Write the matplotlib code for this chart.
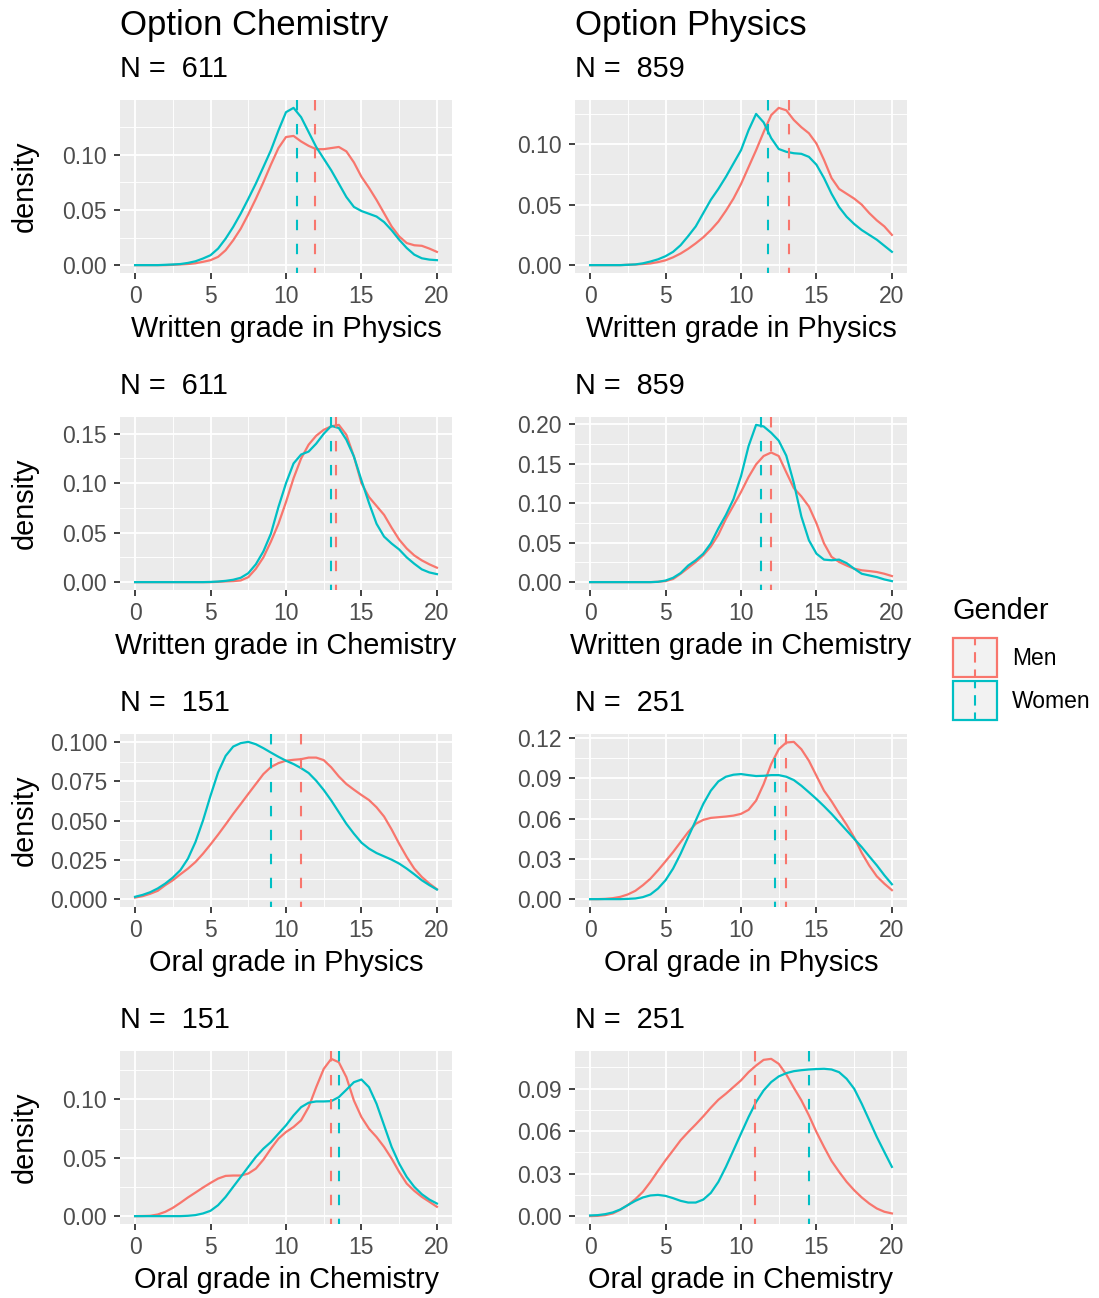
import numpy as np
import matplotlib.pyplot as plt
from matplotlib.patches import Rectangle
from matplotlib.lines import Line2D
from matplotlib.ticker import FixedLocator, MultipleLocator

plt.rcParams['font.family'] = ['Liberation Sans', 'DejaVu Sans']

MEN = '#F8766D'
WOMEN = '#00BFC4'

# grades at which the kernel densities are evaluated
grade = np.arange(0, 20.5, 0.5)

# --- Option Chemistry ---------------------------------------------------
n_chem_written = 611
n_chem_oral = 151

chem_wphys_men = [0, 0, 0, 0, 0, 0.0003, 0.0006, 0.001, 0.0017, 0.003,
                  0.0045, 0.0075, 0.0135, 0.0225, 0.033, 0.046, 0.060, 0.075, 0.091, 0.106,
                  0.116, 0.117, 0.112, 0.108, 0.105, 0.105, 0.106, 0.107, 0.103, 0.093,
                  0.080, 0.070, 0.059, 0.047, 0.035, 0.026, 0.020, 0.018, 0.0175, 0.015, 0.012]
chem_wphys_women = [0, 0, 0, 0, 0.0003, 0.0006, 0.001, 0.002, 0.0035, 0.006,
                    0.009, 0.015, 0.024, 0.0346, 0.0467, 0.060, 0.0738, 0.0888, 0.104, 0.122,
                    0.1385, 0.1424, 0.134, 0.1205, 0.107, 0.0964, 0.0858, 0.0738, 0.0617, 0.0527,
                    0.049, 0.0465, 0.044, 0.039, 0.0316, 0.023, 0.0155, 0.0095, 0.0062, 0.005, 0.0045]

chem_wchem_men = [0, 0, 0, 0, 0, 0, 0, 0, 0, 0,
                  0, 0.0003, 0.0007, 0.001, 0.0017, 0.005, 0.0135, 0.025, 0.041, 0.059,
                  0.081, 0.105, 0.125, 0.139, 0.148, 0.154, 0.1575, 0.159, 0.149, 0.127,
                  0.100, 0.086, 0.077, 0.068, 0.055, 0.043, 0.034, 0.027, 0.022, 0.018, 0.0146]
chem_wchem_women = [0, 0, 0, 0, 0, 0, 0, 0, 0, 0,
                    0.0002, 0.0006, 0.0013, 0.0024, 0.0044, 0.009, 0.018, 0.031, 0.049, 0.076,
                    0.100, 0.120, 0.129, 0.132, 0.140, 0.150, 0.158, 0.1558, 0.144, 0.127,
                    0.103, 0.080, 0.059, 0.046, 0.039, 0.033, 0.025, 0.0186, 0.0129, 0.0098, 0.0081]

chem_ophys_men = [0.001, 0.0019, 0.0034, 0.0053, 0.0089, 0.012, 0.0158, 0.0194, 0.0236, 0.0289,
                  0.0348, 0.041, 0.0475, 0.0542, 0.0605, 0.0669, 0.0732, 0.0795, 0.084, 0.0865,
                  0.088, 0.0886, 0.089, 0.090, 0.090, 0.0884, 0.0838, 0.078, 0.0732, 0.0696,
                  0.0662, 0.063, 0.0584, 0.0525, 0.0443, 0.0352, 0.0268, 0.0194, 0.0141, 0.0099, 0.0063]
chem_ophys_women = [0.0015, 0.0027, 0.0044, 0.0068, 0.0099, 0.0137, 0.0184, 0.0257, 0.0363, 0.050,
                    0.0658, 0.0806, 0.0911, 0.097, 0.0992, 0.100, 0.0985, 0.096, 0.0932, 0.0905,
                    0.088, 0.0859, 0.0833, 0.0802, 0.0753, 0.0694, 0.0627, 0.0553, 0.0479, 0.0416,
                    0.0359, 0.0321, 0.0293, 0.0272, 0.0251, 0.0226, 0.0194, 0.0158, 0.012, 0.0089, 0.0061]

chem_ochem_men = [0, 0.0001, 0.0003, 0.0014, 0.0037, 0.0071, 0.0114, 0.016, 0.0202, 0.0245,
                  0.0285, 0.0322, 0.0345, 0.0348, 0.0348, 0.0365, 0.0407, 0.0484, 0.0578, 0.0664,
                  0.0721, 0.0764, 0.0821, 0.0934, 0.1105, 0.1262, 0.1348, 0.1319, 0.1191, 0.0991,
                  0.0849, 0.0749, 0.0678, 0.0593, 0.0493, 0.0379, 0.0279, 0.0217, 0.0165, 0.0123, 0.008]
chem_ochem_women = [0, 0, 0, 0, 0, 0, 0, 0.0003, 0.0009, 0.0023,
                    0.0046, 0.0094, 0.0165, 0.0251, 0.0336, 0.0422, 0.0507, 0.0578, 0.0635, 0.0707,
                    0.0778, 0.0863, 0.0934, 0.0972, 0.0983, 0.0983, 0.0986, 0.102, 0.1083, 0.1148,
                    0.1171, 0.1105, 0.0963, 0.0778, 0.0593, 0.045, 0.0336, 0.0251, 0.0188, 0.0142, 0.0108]

# --- Option Physics -----------------------------------------------------
n_phys_written = 859
n_phys_oral = 251

phys_wphys_men = [0, 0, 0, 0, 0, 0.0003, 0.0005, 0.0009, 0.0014, 0.0025,
                  0.004, 0.0065, 0.0096, 0.0135, 0.018, 0.023, 0.029, 0.036, 0.045, 0.055,
                  0.067, 0.081, 0.095, 0.110, 0.124, 0.130, 0.128, 0.120, 0.114, 0.109,
                  0.1005, 0.087, 0.072, 0.063, 0.059, 0.055, 0.050, 0.043, 0.037, 0.032, 0.025]
phys_wphys_women = [0, 0, 0, 0, 0, 0.0003, 0.0006, 0.0015, 0.003, 0.0048,
                    0.0074, 0.011, 0.0165, 0.024, 0.032, 0.043, 0.054, 0.063, 0.073, 0.084,
                    0.095, 0.1115, 0.125, 0.118, 0.105, 0.096, 0.0937, 0.0925, 0.092, 0.0895,
                    0.083, 0.072, 0.059, 0.048, 0.040, 0.034, 0.029, 0.025, 0.021, 0.016, 0.011]

phys_wchem_men = [0, 0, 0, 0, 0, 0, 0, 0, 0, 0.0005,
                  0.0013, 0.004, 0.0106, 0.018, 0.0255, 0.034, 0.045, 0.060, 0.080, 0.097,
                  0.114, 0.133, 0.149, 0.1596, 0.164, 0.1596, 0.139, 0.119, 0.1085, 0.0957,
                  0.0745, 0.049, 0.032, 0.0255, 0.021, 0.017, 0.015, 0.014, 0.0128, 0.0106, 0.0077]
phys_wchem_women = [0, 0, 0, 0, 0, 0, 0, 0, 0, 0.0004,
                    0.002, 0.0055, 0.0115, 0.021, 0.0277, 0.036, 0.049, 0.068, 0.085, 0.105,
                    0.134, 0.172, 0.199, 0.197, 0.189, 0.179, 0.160, 0.1255, 0.083, 0.053,
                    0.036, 0.0285, 0.0277, 0.0285, 0.024, 0.017, 0.0106, 0.0085, 0.0064, 0.0034, 0.0013]

phys_ophys_men = [0, 0, 0.0002, 0.0007, 0.0017, 0.0035, 0.0062, 0.0104, 0.0153, 0.0215,
                  0.0282, 0.0351, 0.0426, 0.050, 0.0562, 0.0591, 0.0606, 0.0611, 0.0616, 0.0623,
                  0.0636, 0.0666, 0.0735, 0.0858, 0.1007, 0.1118, 0.1168, 0.1173, 0.1118, 0.1032,
                  0.092, 0.0809, 0.073, 0.064, 0.0555, 0.046, 0.0345, 0.025, 0.017, 0.0115, 0.0067]
phys_ophys_women = [0, 0, 0, 0, 0, 0.0002, 0.0005, 0.0015, 0.0035, 0.0079,
                    0.0141, 0.0228, 0.0339, 0.0463, 0.0586, 0.071, 0.0809, 0.0878, 0.0913, 0.0928,
                    0.0933, 0.0925, 0.0918, 0.092, 0.0925, 0.0925, 0.0913, 0.0888, 0.0846, 0.0797,
                    0.0747, 0.0693, 0.0636, 0.0574, 0.0512, 0.045, 0.0388, 0.0319, 0.0252, 0.0178, 0.0111]

phys_ochem_men = [0, 0.0002, 0.0007, 0.0019, 0.0045, 0.0078, 0.012, 0.0172, 0.0242, 0.032,
                  0.0395, 0.0465, 0.0536, 0.0594, 0.0648, 0.0705, 0.0766, 0.0822, 0.0865, 0.0912,
                  0.0959, 0.1017, 0.1064, 0.1104, 0.1111, 0.1076, 0.1001, 0.0907, 0.0818, 0.0712,
                  0.0594, 0.0489, 0.039, 0.0313, 0.0242, 0.0183, 0.0132, 0.0089, 0.0054, 0.0031, 0.0019]
phys_ochem_women = [0.0005, 0.0007, 0.0014, 0.0026, 0.0047, 0.0078, 0.0108, 0.0132, 0.0146, 0.015,
                    0.0143, 0.0127, 0.0108, 0.0096, 0.0096, 0.0117, 0.0164, 0.0242, 0.0348, 0.0465,
                    0.0583, 0.070, 0.0806, 0.0888, 0.0947, 0.0987, 0.101, 0.1024, 0.1031, 0.1036,
                    0.1039, 0.1041, 0.1036, 0.1017, 0.097, 0.09, 0.0794, 0.0677, 0.0559, 0.0453, 0.0348]

# mean grade per gender (men, women)
chem_means = {'wphys': (11.9, 10.7), 'wchem': (13.3, 13.0),
              'ophys': (11.0, 9.0), 'ochem': (13.0, 13.5)}
phys_means = {'wphys': (13.2, 11.8), 'wchem': (12.0, 11.35),
              'ophys': (13.0, 12.25), 'ochem': (10.95, 14.5)}

xlabels = {'wphys': 'Written grade in Physics', 'wchem': 'Written grade in Chemistry',
           'ophys': 'Oral grade in Physics', 'ochem': 'Oral grade in Chemistry'}

yticks_chem = {'wphys': ['0.00', '0.05', '0.10'],
               'wchem': ['0.00', '0.05', '0.10', '0.15'],
               'ophys': ['0.000', '0.025', '0.050', '0.075', '0.100'],
               'ochem': ['0.00', '0.05', '0.10']}
yticks_phys = {'wphys': ['0.00', '0.05', '0.10'],
               'wchem': ['0.00', '0.05', '0.10', '0.15', '0.20'],
               'ophys': ['0.00', '0.03', '0.06', '0.09', '0.12'],
               'ochem': ['0.00', '0.03', '0.06', '0.09']}

chem_curves = {'wphys': (chem_wphys_men, chem_wphys_women),
               'wchem': (chem_wchem_men, chem_wchem_women),
               'ophys': (chem_ophys_men, chem_ophys_women),
               'ochem': (chem_ochem_men, chem_ochem_women)}
phys_curves = {'wphys': (phys_wphys_men, phys_wphys_women),
               'wchem': (phys_wchem_men, phys_wchem_women),
               'ophys': (phys_ophys_men, phys_ophys_women),
               'ochem': (phys_ochem_men, phys_ochem_women)}
chem_n = {'wphys': n_chem_written, 'wchem': n_chem_written,
          'ophys': n_chem_oral, 'ochem': n_chem_oral}
phys_n = {'wphys': n_phys_written, 'wchem': n_phys_written,
          'ophys': n_phys_oral, 'ochem': n_phys_oral}

rows = ['wphys', 'wchem', 'ophys', 'ochem']

W, H = 1099, 1298
fig = plt.figure(figsize=(W / 100, H / 100), dpi=100)

col_left = [120, 575]
row_top = [100, 417, 734, 1051]
pw, ph = 332, 173

DASH = (0, (5, 6.5))


def density_panel(ax, men, women, means, ticks, xlab, show_ylab):
    men = np.array(men)
    women = np.array(women)
    ax.set_facecolor('#EBEBEB')
    ax.plot(grade, men, color=MEN, lw=1.6)
    ax.plot(grade, women, color=WOMEN, lw=1.6)
    # mean lines, dashes start from the top of the panel
    xt = ax.get_xaxis_transform()
    ax.plot([means[0]] * 2, [1, 0], transform=xt, color=MEN, lw=1.5, ls=DASH)
    ax.plot([means[1]] * 2, [1, 0], transform=xt, color=WOMEN, lw=1.5, ls=DASH)
    top = max(men.max(), women.max())
    ax.set_xlim(-1, 21)
    ax.set_ylim(-0.05 * top, 1.05 * top)
    ax.set_xticks([0, 5, 10, 15, 20])
    ax.xaxis.set_minor_locator(MultipleLocator(2.5))
    vals = [float(t) for t in ticks]
    step = vals[1] - vals[0]
    ax.yaxis.set_major_locator(FixedLocator(vals))
    ax.set_yticklabels(ticks)
    ax.yaxis.set_minor_locator(FixedLocator(np.array(vals + [vals[-1] + step]) - step / 2))
    ax.grid(which='major', color='white', lw=1.3)
    ax.grid(which='minor', color='white', lw=0.65)
    ax.set_axisbelow(True)
    for s in ax.spines.values():
        s.set_visible(False)
    ax.tick_params(which='major', direction='out', length=4.3, width=1.3,
                   color='#333333', labelcolor='#4D4D4D', labelsize=16.5)
    ax.tick_params(axis='x', which='major', pad=4)
    ax.tick_params(axis='y', which='major', pad=5)
    ax.tick_params(which='minor', length=0)
    ax.set_xlabel(xlab, fontsize=20.8, labelpad=5.5)
    if show_ylab:
        ax.set_ylabel('density', fontsize=20.8)
        ax.yaxis.set_label_coords(-0.245, 0.5)


for c, (curves, means, ticks, ns) in enumerate([(chem_curves, chem_means, yticks_chem, chem_n),
                                                (phys_curves, phys_means, yticks_phys, phys_n)]):
    for r, key in enumerate(rows):
        left, top_px = col_left[c], row_top[r]
        ax = fig.add_axes([left / W, 1 - (top_px + ph) / H, pw / W, ph / H])
        density_panel(ax, curves[key][0], curves[key][1], means[key], ticks[key],
                      xlabels[key], c == 0)
        fig.text(left / W, 1 - (top_px - 23) / H, 'N =  %d' % ns[key],
                 fontsize=20.8, va='baseline', ha='left')

fig.text(120 / W, 1 - 35 / H, 'Option Chemistry', fontsize=25, va='baseline', ha='left')
fig.text(575 / W, 1 - 35 / H, 'Option Physics', fontsize=25, va='baseline', ha='left')


class DensityKey:
    # grey key box outlined in the group colour with a dashed mean line
    def legend_artist(self, legend, orig_handle, fontsize, handlebox):
        x0, y0 = -handlebox.xdescent, -handlebox.ydescent
        w, h = handlebox.width, handlebox.height
        col = orig_handle.get_color()
        tr = handlebox.get_transform()
        box = Rectangle((x0, y0), w, h, facecolor='#F2F2F2', edgecolor=col, lw=1.6,
                        transform=tr)
        dash = Line2D([x0 + w / 2] * 2, [y0 + h, y0], color=col, lw=1.5,
                      ls=(1.5, (5, 3.3)), transform=tr)
        handlebox.add_artist(box)
        handlebox.add_artist(dash)
        return box


# legend title set as its own text so the gap above the keys can be matched
fig.text(953 / W, 1 - 619 / H, 'Gender', fontsize=20.8, va='baseline', ha='left')
handles = [Line2D([], [], color=MEN), Line2D([], [], color=WOMEN)]
fig.legend(handles, ['Men', 'Women'], fontsize=16.5,
           handler_map={Line2D: DensityKey()}, frameon=False,
           handlelength=1.92, handleheight=2.27, labelspacing=0.15, handletextpad=0.65,
           borderpad=0, borderaxespad=0,
           loc='upper left', bbox_to_anchor=(953 / W, 1 - 638 / H))

fig.savefig('out.png', dpi=100)
